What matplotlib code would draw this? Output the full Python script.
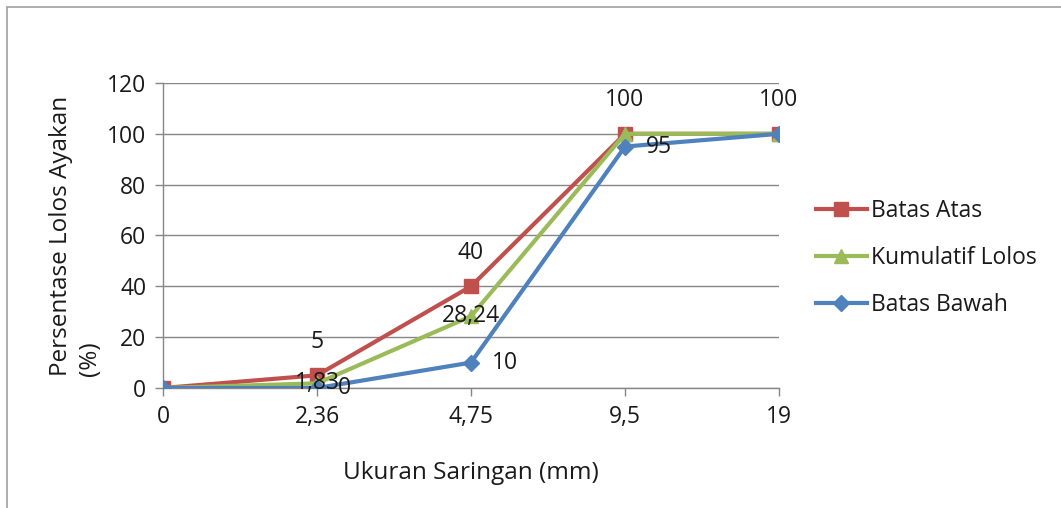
import matplotlib
matplotlib.use("Agg")
import matplotlib.pyplot as plt
from matplotlib.patches import Rectangle

categories = ["0", "2,36", "4,75", "9,5", "19"]
batas_atas = [0, 5, 40, 100, 100]
kumulatif = [0, 1.83, 28.24, 100, 100]
batas_bawah = [0, 0, 10, 95, 100]
atas_labels = [None, "5", "40", "100", "100"]
kum_labels = [None, "1,83", "28,24", None, None]
bawah_labels = [None, "0", "10", "95", None]
yticks = [0, 20, 40, 60, 80, 100, 120]

plt.rcParams['font.family'] = ['Open Sans', 'DejaVu Sans']
fig = plt.figure(figsize=(10.61, 5.08), dpi=100)
fig.patches.append(Rectangle((7/1061, -0.1), 1.2, (1 - 7/508) + 0.1, transform=fig.transFigure,
                             fill=False, edgecolor='#A0A0A0', linewidth=1.2))
ax = fig.add_axes([163/1061, 1 - 388/508, (779 - 163)/1061, (388 - 83)/508])

x = list(range(len(categories)))
c_red, c_green, c_blue = '#C0504D', '#9BBB59', '#4F81BD'
ax.plot(x, batas_atas, color=c_red, lw=3, marker='s', ms=10, label='Batas Atas', zorder=3)
ax.plot(x, kumulatif, color=c_green, lw=3, marker='^', ms=10, label='Kumulatif Lolos', zorder=4)
ax.plot(x, batas_bawah, color=c_blue, lw=3, marker='D', ms=8, label='Batas Bawah', zorder=5)

fs = 16.5
tc = '#1a1a1a'
for i, t in enumerate(atas_labels):
    if t:
        ax.annotate(t, (x[i], batas_atas[i]), xytext=(0, 24), textcoords='offset points',
                    ha='center', va='center', fontsize=fs, color=tc, zorder=6)
for i, t in enumerate(kum_labels):
    if t:
        ax.annotate(t, (x[i], kumulatif[i]), xytext=(0, 0), textcoords='offset points',
                    ha='center', va='center', fontsize=fs, color=tc, zorder=6)
for i, t in enumerate(bawah_labels):
    if t:
        ax.annotate(t, (x[i], batas_bawah[i]), xytext=(15, 0), textcoords='offset points',
                    ha='left', va='center', fontsize=fs, color=tc, zorder=6)

ax.set_xlim(0, len(categories) - 1)
ax.set_ylim(0, 120)
ax.set_xticks(x)
ax.set_xticklabels(categories)
ax.set_yticks(yticks)
ax.tick_params(axis='both', labelsize=fs, colors='#868686', labelcolor=tc, length=6, width=1, pad=6)
ax.yaxis.grid(True, color='#868686', linewidth=1)
ax.set_axisbelow(True)
for s in ['top', 'right']:
    ax.spines[s].set_visible(False)
for s in ['left', 'bottom']:
    ax.spines[s].set_color('#868686')
    ax.spines[s].set_linewidth(1)

yl = ax.set_ylabel("Persentase Lolos Ayakan\n(%)", fontsize=fs + 1, color=tc, labelpad=4, linespacing=1.25)
yl.set_multialignment('left')
ax.set_xlabel("Ukuran Saringan (mm)", fontsize=fs + 1, color=tc, labelpad=23)

leg = fig.legend(loc='center left', bbox_to_anchor=(807/1061, 1 - 258/508), frameon=False,
                 fontsize=fs, handlelength=2.2, handletextpad=0.2, labelspacing=1.0, borderaxespad=0)
for t in leg.get_texts():
    t.set_color(tc)

fig.savefig("out.png", dpi=100)
